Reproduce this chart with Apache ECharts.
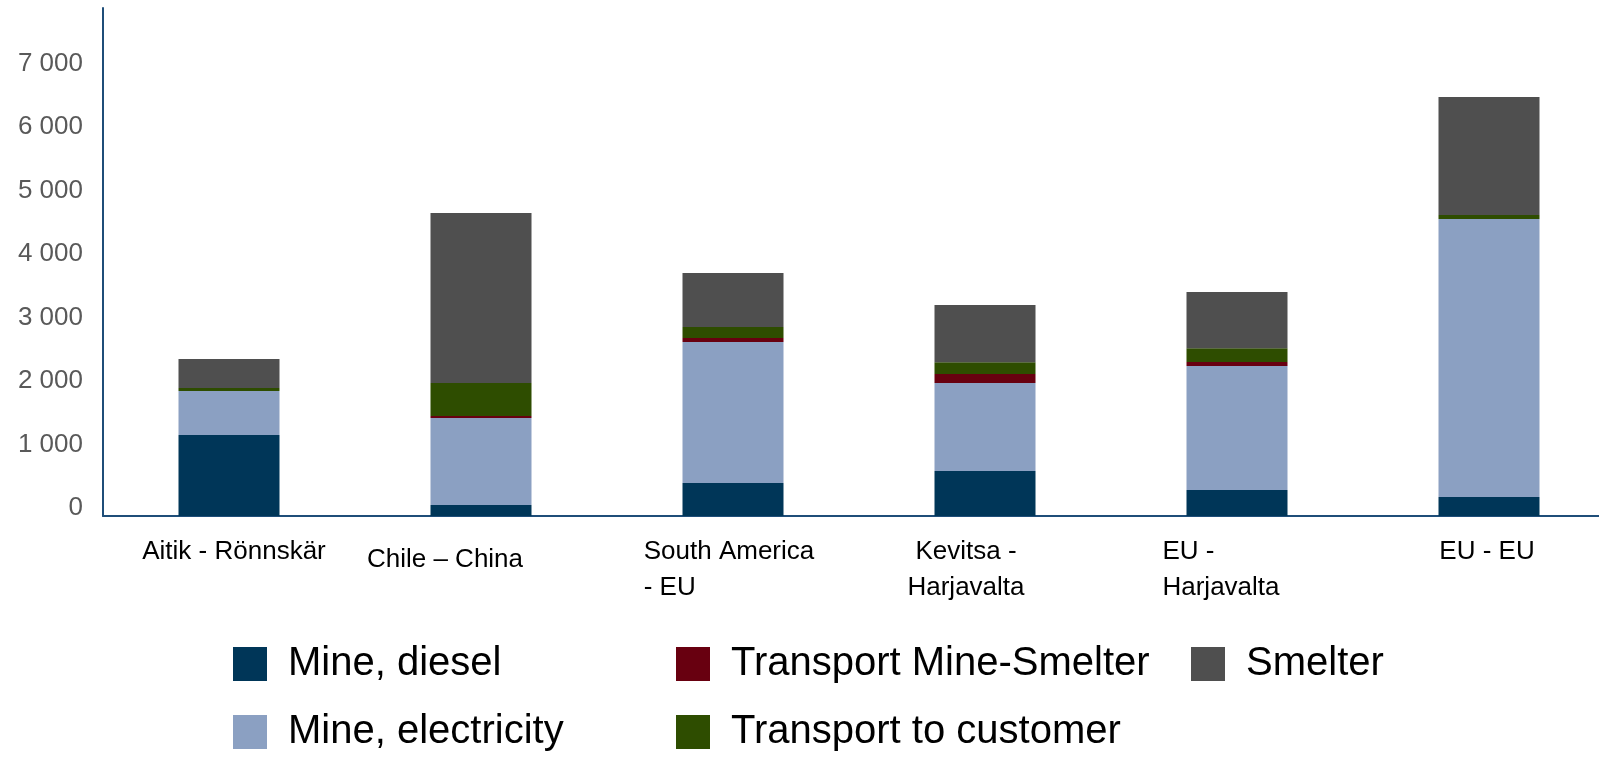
<!DOCTYPE html>
<html>
<head>
<meta charset="utf-8">
<script src="https://cdn.jsdelivr.net/npm/echarts@6/dist/echarts.min.js"></script>
<style>
html,body{margin:0;padding:0;background:#fff;}
#chart{width:1599px;height:757px;}
</style>
</head>
<body>
<div id="chart"></div>
<script>
// ---- data ----
const categories = ['Aitik - Rönnskär', 'Chile – China', 'South America\n- EU', 'Kevitsa -\nHarjavalta', 'EU -\nHarjavalta', 'EU - EU'];
const seriesNames = ['Mine, diesel', 'Mine, electricity', 'Transport Mine-Smelter', 'Transport to customer', 'Smelter'];
const mineDiesel = [1276, 173, 520, 709, 409, 299];
const mineElectricity = [693, 1370, 2220, 1385, 1953, 4378];
const transportMineSmelter = [0, 32, 63, 142, 63, 0];
const transportToCustomer = [47, 519, 173, 184, 216, 63];
const smelter = [456, 2678, 851, 903, 887, 1858];
const yMin = 0, yMax = 8000, yStep = 1000;

// ---- styling ----
const FONT = "'Liberation Sans', Arial, sans-serif";
const colors = ['#003658', '#8BA0C2', '#680010', '#2E4D00', '#4F4F4F'];
const catLabelLayout = [
  {align: 'center', shift: 5, lh: 36},
  {align: 'center', shift: -36, lh: 52},
  {align: 'left', shift: -4, lh: 36},
  {align: 'center', shift: -19, lh: 36},
  {align: 'left', shift: -16, lh: 36},
  {align: 'center', shift: -2, lh: 36}
];
const rich = {};
catLabelLayout.forEach((s, i) => {
  rich['c' + i] = {
    align: s.align,
    padding: [0, s.shift < 0 ? -2 * s.shift : 0, 0, s.shift > 0 ? 2 * s.shift : 0],
    lineHeight: s.lh,
    fontSize: 26,
    fontFamily: FONT,
    color: '#000'
  };
});

const values = [mineDiesel, mineElectricity, transportMineSmelter, transportToCustomer, smelter];
const series = seriesNames.map((name, i) => ({
  name: name,
  type: 'bar',
  stack: 'total',
  barWidth: 101,
  itemStyle: {color: colors[i]},
  emphasis: {disabled: true},
  data: values[i]
}));

const legendCommon = {
  orient: 'vertical',
  padding: 0,
  height: 150,
  itemWidth: 34,
  itemHeight: 34,
  itemGap: 28,
  icon: 'rect',
  selectedMode: false,
  textStyle: {fontSize: 40, fontFamily: FONT, color: '#000', padding: [0, 0, 0, 16]}
};

const option = {
  animation: false,
  backgroundColor: '#fff',
  grid: {left: 103, right: -16, top: 8, bottom: 241, containLabel: false, outerBoundsMode: 'none'},
  legend: [
    Object.assign({}, legendCommon, {left: 233, top: 644, data: [seriesNames[0], seriesNames[1]]}),
    Object.assign({}, legendCommon, {left: 676, top: 644, data: [seriesNames[2], seriesNames[3]]}),
    Object.assign({}, legendCommon, {left: 1191, top: 644, data: [seriesNames[4]]})
  ],
  xAxis: {
    type: 'category',
    data: categories,
    axisLine: {show: true, lineStyle: {color: '#1F4E79', width: 2}},
    axisTick: {show: false},
    axisLabel: {
      interval: 0,
      margin: 18,
      hideOverlap: false,
      formatter: (val, idx) => val.split('\n').map(s => '{c' + idx + '|' + s + '}').join('\n'),
      rich: rich
    }
  },
  yAxis: {
    type: 'value',
    min: yMin,
    max: yMax,
    interval: yStep,
    axisLine: {show: true, lineStyle: {color: '#1F4E79', width: 2}},
    axisTick: {show: false},
    splitLine: {show: false},
    axisLabel: {
      showMaxLabel: false,
      fontSize: 26,
      fontFamily: FONT,
      color: '#595959',
      margin: 20,
      verticalAlign: 'bottom',
      lineHeight: 16,
      formatter: v => String(v).replace(/\B(?=(\d{3})+(?!\d))/g, ' ')
    }
  },
  series: series
};

const chart = echarts.init(document.getElementById('chart'), null, {renderer: 'canvas'});
chart.setOption(option);
</script>
</body>
</html>
